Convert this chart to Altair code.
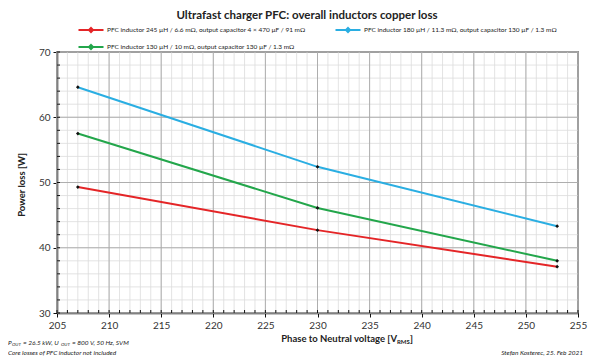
import altair as alt
import pandas as pd

voltage = [207, 230, 253]
series_names = [
    "PFC inductor 245 µH / 6.6 mΩ, output capacitor 4 × 470 µF / 91 mΩ",
    "PFC inductor 130 µH / 10 mΩ, output capacitor 130 µF / 1.3 mΩ",
    "PFC inductor 180 µH / 11.3 mΩ, output capacitor 130 µF / 1.3 mΩ",
]
red_loss = [49.3, 42.7, 37.1]
green_loss = [57.5, 46.1, 38.0]
blue_loss = [64.6, 52.4, 43.3]
colors = ["#e42527", "#23a64b", "#2aaee2"]

x_major = list(range(205, 256, 5))
x_minor = list(range(205, 256, 1))
y_major = list(range(30, 71, 10))
y_minor = list(range(30, 71, 2))

rows = []
for name, vals in zip(series_names, [red_loss, green_loss, blue_loss]):
    for v, p in zip(voltage, vals):
        rows.append({"series": name, "voltage": v, "loss": p})
df = pd.DataFrame(rows)

W, H = 521, 261
FONT = "Lato"

xs = alt.Scale(domain=[205, 255], nice=False, zero=False)
ys = alt.Scale(domain=[30, 70], nice=False, zero=False)

x_axis = alt.Axis(
    values=x_major, title=None, grid=False, tickSize=4, tickColor="#111111",
    domainColor="#111111", domainWidth=1.5, labelFont=FONT, labelFontSize=10,
    labelColor="#333333", labelPadding=3, labelFlush=False,
)
y_axis = alt.Axis(
    values=y_major, title=None, grid=False, tickSize=4, tickColor="#111111",
    domainColor="#111111", domainWidth=1.5, labelFont=FONT, labelFontSize=10,
    labelColor="#333333", labelPadding=3, labelFlush=False,
)

def X(f):
    return alt.X(f, scale=xs, axis=x_axis)

def Y(f):
    return alt.Y(f, scale=ys, axis=y_axis)

minor_x_grid = alt.Chart(pd.DataFrame({"v": x_minor})).mark_rule(
    color="#dcdcdc", strokeWidth=0.8
).encode(x=X("v:Q"))
minor_y_grid = alt.Chart(pd.DataFrame({"v": y_minor})).mark_rule(
    color="#dcdcdc", strokeWidth=0.8
).encode(y=Y("v:Q"))

major_x_grid = alt.Chart(pd.DataFrame({"v": x_major})).mark_rule(
    color="#a8a8a8", strokeWidth=0.9
).encode(x=X("v:Q"))
major_y_grid = alt.Chart(pd.DataFrame({"v": y_major})).mark_rule(
    color="#a8a8a8", strokeWidth=0.9
).encode(y=Y("v:Q"))

minor_x_ticks = alt.Chart(pd.DataFrame({"v": x_minor})).mark_rule(
    color="#111111", strokeWidth=1
).encode(x=X("v:Q"), y=alt.value(H), y2=alt.value(H - 3))
minor_y_ticks = alt.Chart(pd.DataFrame({"v": y_minor})).mark_rule(
    color="#111111", strokeWidth=1
).encode(y=Y("v:Q"), x=alt.value(0), x2=alt.value(3))

legend = alt.Legend(
    title=None,
    orient="none",
    legendX=28,
    legendY=-28,
    columns=2,
    columnPadding=25,
    rowPadding=5,
    padding=0,
    symbolType="M-2.5,0L2.5,0M0,-0.4L0.4,0L0,0.4L-0.4,0Z",
    symbolSize=100,
    symbolStrokeWidth=2,
    symbolFillColor="#111111",
    labelFont=FONT,
    labelFontSize=6.5,
    labelColor="#222222",
    labelOffset=10,
    labelLimit=400,
)

lines = alt.Chart(df).mark_line(strokeWidth=2).encode(
    x=X("voltage:Q"),
    y=Y("loss:Q"),
    color=alt.Color(
        "series:N",
        scale=alt.Scale(domain=series_names, range=colors),
        sort=series_names,
        legend=legend,
    ),
)

points = alt.Chart(df).mark_point(
    shape="diamond", filled=True, color="#111111", size=14, opacity=1
).encode(
    x=X("voltage:Q"),
    y=Y("loss:Q"),
    detail="series:N",
)

def txt(s, x, y, size=7, weight="normal", style="normal", align="left", angle=0, baseline="middle"):
    return alt.Chart(pd.DataFrame({"t": [s]})).mark_text(
        font=FONT, fontSize=size, fontWeight=weight, fontStyle=style,
        align=align, baseline=baseline, angle=angle, color="#222222",
    ).encode(text="t:N", x=alt.value(x), y=alt.value(y))

title = txt("Ultrafast charger PFC: overall inductors copper loss", 250, -36, size=11.5, weight="bold", align="center")
ytitle = txt("Power loss [W]", -35, 133, size=9.5, weight="bold", align="center", angle=270)
xt_anchor = 340
xtitle = [
    txt("Phase to Neutral voltage [V", xt_anchor, 287, size=9.5, weight="bold", align="right"),
    txt("RMS", xt_anchor, 290, size=6, weight="bold"),
    txt("]", xt_anchor + 13, 287, size=9.5, weight="bold"),
]
bx = -49
foot = [
    txt("P", bx, 291, size=6.5, style="italic"),
    txt("OUT", bx + 4, 293, size=4.5, style="italic"),
    txt("= 26.5 kW, U", bx + 15, 291, size=6.5, style="italic"),
    txt("OUT", bx + 53, 293, size=4.5, style="italic"),
    txt("= 800 V, 50 Hz, SVM", bx + 64, 291, size=6.5, style="italic"),
    txt("Core losses of PFC inductor not included", bx, 301, size=6.5, style="italic"),
    txt("Stefan Kosterec, 25. Feb 2021", W + 5, 301, size=6.5, style="italic", align="right"),
]

chart = alt.layer(
    minor_x_grid, minor_y_grid, major_x_grid, major_y_grid,
    minor_x_ticks, minor_y_ticks, lines, points,
    title, ytitle, *xtitle, *foot,
).properties(
    width=W, height=H,
    autosize=alt.AutoSizeParams(type="none"),
    padding={"left": 49, "top": 44, "right": 14, "bottom": 46},
    background="white",
).configure_view(
    stroke="#404040", strokeWidth=1.5
)

chart.save("out.html", embed_options={"renderer": "svg", "actions": False})
